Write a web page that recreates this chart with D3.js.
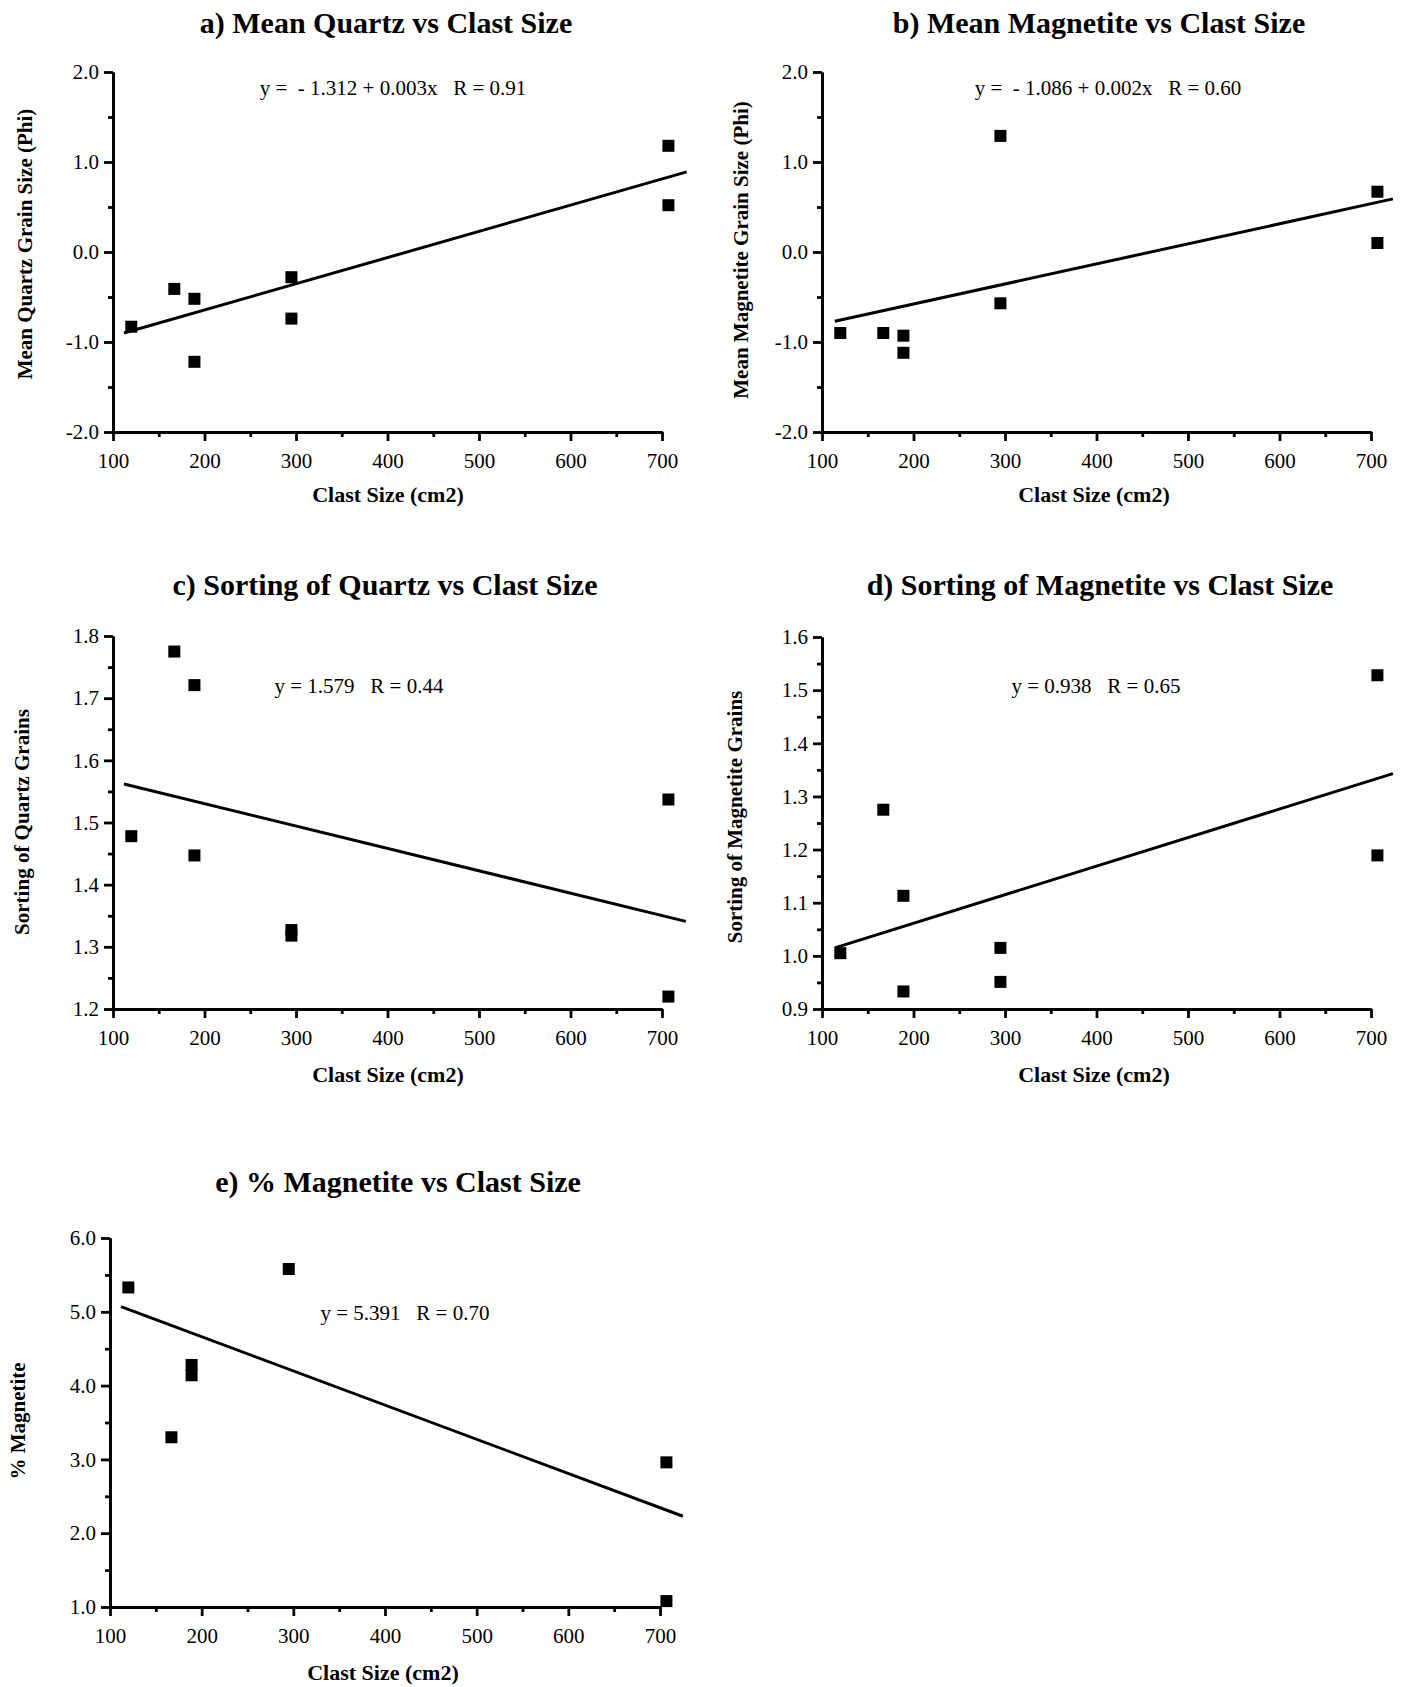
<!DOCTYPE html>
<html>
<head>
<meta charset="utf-8">
<script src="https://cdn.jsdelivr.net/npm/d3@7"></script>
<style>
  body { margin: 0; background: #fff; }
  svg { display: block; }
  text { font-family: "Liberation Serif", "Times New Roman", serif; fill: #000; }
  .axis path, .axis line { stroke: #000; stroke-width: 2.8; }
  .axis text { font-size: 21px; font-family: "Liberation Serif", serif; }
</style>
</head>
<body>
<svg id="chart"></svg>
<script>
// Clast sizes (cm2) shared by panels a-d
const clastSize = [120, 167, 189, 189, 295, 295, 707, 707];
// panel e shows seven points
const clastSizeE = [120, 167, 189, 189, 295, 707, 707];

const meanQuartz = [-0.83, -0.41, -0.52, -1.22, -0.28, -0.74, 1.18, 0.52];
const meanMagnetite = [-0.90, -0.90, -0.93, -1.12, 1.29, -0.57, 0.67, 0.10];
const sortQuartz = [1.478, 1.775, 1.721, 1.447, 1.327, 1.318, 1.537, 1.220];
const sortMagnetite = [1.005, 1.275, 1.113, 0.933, 1.015, 0.951, 1.528, 1.189];
const pctMagnetite = [5.33, 3.30, 4.28, 4.14, 5.58, 2.96, 1.08];

// fitted line end points [x, y]
const fitA = [[112, -0.90], [727, 0.89]];
const fitB = [[114, -0.77], [724, 0.59]];
const fitC = [[112, 1.562], [726, 1.341]];
const fitD = [[114, 1.015], [724, 1.343]];
const fitE = [[112, 5.07], [725, 2.23]];

// axis ticks
const xTicks = [100, 200, 300, 400, 500, 600, 700];
const xMinor = [150, 250, 350, 450, 550, 650];
const yTicksPhi = [-2, -1, 0, 1, 2];
const yMinorPhi = [-1.5, -0.5, 0.5, 1.5];
const yTicksSortQ = [1.2, 1.3, 1.4, 1.5, 1.6, 1.7, 1.8];
const yMinorSortQ = [1.25, 1.35, 1.45, 1.55, 1.65, 1.75];
const yTicksSortM = [0.9, 1.0, 1.1, 1.2, 1.3, 1.4, 1.5, 1.6];
const yMinorSortM = [0.95, 1.05, 1.15, 1.25, 1.35, 1.45, 1.55];
const yTicksPct = [1, 2, 3, 4, 5, 6];
const yMinorPct = [1.5, 2.5, 3.5, 4.5, 5.5];

const titles = [
  'a) Mean Quartz vs Clast Size',
  'b) Mean Magnetite vs Clast Size',
  'c) Sorting of Quartz vs Clast Size',
  'd) Sorting of Magnetite vs Clast Size',
  'e) % Magnetite vs Clast Size'
];
const equations = [
  'y =  - 1.312 + 0.003x   R = 0.91',
  'y =  - 1.086 + 0.002x   R = 0.60',
  'y = 1.579   R = 0.44',
  'y = 0.938   R = 0.65',
  'y = 5.391   R = 0.70'
];
const yLabels = [
  'Mean Quartz Grain Size (Phi)',
  'Mean Magnetite Grain Size (Phi)',
  'Sorting of Quartz Grains',
  'Sorting of Magnetite Grains',
  '% Magnetite'
];
const xLabel = 'Clast Size (cm2)';

// Panel layout (page pixels)
const panels = [
  { xs: clastSize, ys: meanQuartz, fit: fitA, yDom: [-2, 2], yTicks: yTicksPhi, yMinor: yMinorPhi,
    left: 113, right: 662, top: 72, bottom: 432,
    title: [386, 33], eq: [393, 95], xl: [388, 502], yl: [25, 244] },
  { xs: clastSize, ys: meanMagnetite, fit: fitB, yDom: [-2, 2], yTicks: yTicksPhi, yMinor: yMinorPhi,
    left: 822, right: 1371, top: 72, bottom: 432,
    title: [1099, 33], eq: [1108, 95], xl: [1094, 502], yl: [741, 250] },
  { xs: clastSize, ys: sortQuartz, fit: fitC, yDom: [1.2, 1.8], yTicks: yTicksSortQ, yMinor: yMinorSortQ,
    left: 113, right: 662, top: 636, bottom: 1009,
    title: [385, 595], eq: [359, 693], xl: [388, 1082], yl: [22, 822] },
  { xs: clastSize, ys: sortMagnetite, fit: fitD, yDom: [0.9, 1.6], yTicks: yTicksSortM, yMinor: yMinorSortM,
    left: 822, right: 1371, top: 637, bottom: 1009,
    title: [1100, 595], eq: [1096, 693], xl: [1094, 1082], yl: [735, 817] },
  { xs: clastSizeE, ys: pctMagnetite, fit: fitE, yDom: [1, 6], yTicks: yTicksPct, yMinor: yMinorPct,
    left: 110, right: 660, top: 1238, bottom: 1607,
    title: [398, 1192], eq: [405, 1320], xl: [383, 1680], yl: [18, 1421] }
];

const svg = d3.select('#chart')
  .attr('width', 1401)
  .attr('height', 1687);

panels.forEach((p, i) => {
  const g = svg.append('g');

  const xScale = d3.scaleLinear().domain([100, 700]).range([p.left, p.right]);
  const yScale = d3.scaleLinear().domain(p.yDom).range([p.bottom, p.top]);

  // minor ticks first, then major axes on top
  g.append('g')
    .attr('class', 'axis')
    .attr('transform', `translate(0,${p.bottom})`)
    .call(d3.axisBottom(xScale).tickValues(xMinor).tickSize(5).tickSizeOuter(0).tickFormat(''));
  g.append('g')
    .attr('class', 'axis')
    .attr('transform', `translate(0,${p.bottom})`)
    .call(d3.axisBottom(xScale).tickValues(xTicks).tickSize(9).tickSizeOuter(0).tickPadding(12)
      .tickFormat(d => d));

  g.append('g')
    .attr('class', 'axis')
    .attr('transform', `translate(${p.left},0)`)
    .call(d3.axisLeft(yScale).tickValues(p.yMinor).tickSize(5).tickSizeOuter(0).tickFormat(''));
  g.append('g')
    .attr('class', 'axis')
    .attr('transform', `translate(${p.left},0)`)
    .call(d3.axisLeft(yScale).tickValues(p.yTicks).tickSize(9).tickSizeOuter(0).tickPadding(5)
      .tickFormat(d => d.toFixed(1)));

  // fitted line
  const line = d3.line()
    .x(d => xScale(d[0]))
    .y(d => yScale(d[1]));
  g.append('path')
    .datum(p.fit)
    .attr('d', line)
    .attr('fill', 'none')
    .attr('stroke', '#000')
    .attr('stroke-width', 3);

  // square markers
  const pts = p.xs.map((x, j) => ({ x: x, y: p.ys[j] }));
  g.selectAll('rect.pt')
    .data(pts)
    .enter().append('rect')
    .attr('class', 'pt')
    .attr('x', d => xScale(d.x) - 6)
    .attr('y', d => yScale(d.y) - 6)
    .attr('width', 12)
    .attr('height', 12)
    .attr('fill', '#000');

  // title
  g.append('text')
    .attr('x', p.title[0])
    .attr('y', p.title[1])
    .attr('text-anchor', 'middle')
    .style('font-size', '30px')
    .style('font-weight', 'bold')
    .text(titles[i]);

  // equation
  g.append('text')
    .attr('x', p.eq[0])
    .attr('y', p.eq[1])
    .attr('text-anchor', 'middle')
    .style('font-size', '21px')
    .style('white-space', 'pre')
    .text(equations[i]);

  // x label
  g.append('text')
    .attr('x', p.xl[0])
    .attr('y', p.xl[1])
    .attr('text-anchor', 'middle')
    .style('font-size', '22px')
    .style('font-weight', 'bold')
    .text(xLabel);

  // y label
  g.append('text')
    .attr('transform', `translate(${p.yl[0]},${p.yl[1]}) rotate(-90)`)
    .attr('dy', '0.35em')
    .attr('text-anchor', 'middle')
    .style('font-size', '21px')
    .style('font-weight', 'bold')
    .text(yLabels[i]);
});
</script>
</body>
</html>
